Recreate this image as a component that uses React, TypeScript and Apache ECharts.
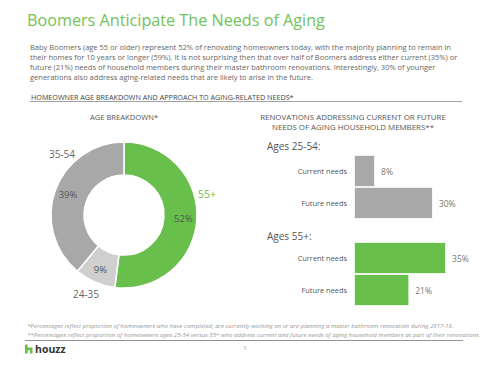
import React, { useEffect, useRef } from "react";
import * as echarts from "echarts";

const ageCategories = ["55+", "24-35", "35-54"];
const ageValues = [52, 9, 39];
const ageColors = ["#68bf4b", "#cfcfcf", "#a8a8a8"];

const needCategories = ["Current needs", "Future needs"];
const needs2554 = [8, 30];
const needs55 = [35, 21];

const paragraph = [
  "Baby Boomers (age 55 or older) represent 52% of renovating homeowners today, with the majority planning to remain in",
  "their homes for 10 years or longer (59%). It is not surprising then that over half of Boomers address either current (35%) or",
  "future (21%) needs of household members during their master bathroom renovations. Interestingly, 30% of younger",
  "generations also address aging-related needs that are likely to arise in the future.",
];
const footnotes = [
  "*Percentages reflect proportion of homeowners who have completed, are currently working on or are planning a master bathroom renovation during 2017-18.",
  "**Percentages reflect proportion of homeowners ages 25-54 versus 55+ who address current and future needs of aging household members as part of their renovations.",
];

const FONT = "'Open Sans', Lato, sans-serif";

export default function App() {
  const ref = useRef<HTMLDivElement>(null);
  useEffect(() => {
    if (!ref.current) return;
    const chart = echarts.init(ref.current, null, { renderer: "svg" });
    const barSeries = (data: number[], idx: number, color: string) => ({
      type: "bar",
      xAxisIndex: idx,
      yAxisIndex: idx,
      data,
      barCategoryGap: 0,
      itemStyle: { color, borderColor: "#ffffff", borderWidth: 0.8 },
      label: {
        show: true,
        position: "right",
        distance: 6,
        formatter: "{c}%",
        fontFamily: FONT,
        fontSize: 8.5,
        color: "#777",
      },
    });
    const xAxis = (idx: number) => ({
      gridIndex: idx,
      type: "value",
      min: 0,
      max: 40,
      show: false,
    });
    const yAxis = (idx: number) => ({
      gridIndex: idx,
      type: "category",
      inverse: true,
      data: needCategories,
      axisLine: { show: false },
      axisTick: { show: false },
      axisLabel: { fontFamily: FONT, fontSize: 7.4, color: "#555", margin: 7 },
    });
    chart.setOption({
      animation: false,
      backgroundColor: "#ffffff",
      grid: [
        { left: 354, top: 155, width: 105.2, height: 64 },
        { left: 354, top: 242, width: 105.2, height: 64 },
      ],
      xAxis: [xAxis(0), xAxis(1)],
      yAxis: [yAxis(0), yAxis(1)],
      series: [
        {
          type: "pie",
          center: [124, 215],
          radius: [40, 73],
          startAngle: 90,
          clockwise: true,
          data: ageCategories.map((n, i) => ({
            name: n,
            value: ageValues[i],
            itemStyle: { color: ageColors[i] },
          })),
          itemStyle: { borderColor: "#ffffff", borderWidth: 1.5 },
          label: {
            show: true,
            position: "inside",
            formatter: "{c}%",
            fontFamily: FONT,
            fontSize: 9.5,
            color: "#555",
          },
          labelLine: { show: false },
          emphasis: { disabled: true },
        },
        barSeries(needs2554, 0, "#a8a8a8"),
        barSeries(needs55, 1, "#68bf4b"),
      ],
      graphic: [
        {
          type: "text",
          left: 27,
          top: 12,
          style: { text: "Boomers Anticipate The Needs of Aging", fontFamily: FONT, fontSize: 16.2, fill: "#74c25a" },
        },
        {
          type: "text",
          left: 30,
          top: 42,
          style: { text: paragraph.join("\n"), fontFamily: FONT, fontSize: 7.5, lineHeight: 10, fill: "#666" },
        },
        {
          type: "text",
          left: 31,
          top: 93,
          style: { text: "HOMEOWNER AGE BREAKDOWN AND APPROACH TO AGING-RELATED NEEDS*", fontFamily: FONT, fontSize: 7.2, fill: "#444" },
        },
        { type: "line", shape: { x1: 30, y1: 101.5, x2: 462, y2: 101.5 }, style: { stroke: "#888", lineWidth: 0.8 } },
        {
          type: "text",
          x: 124,
          y: 117,
          style: { text: "AGE BREAKDOWN*", fontFamily: FONT, fontSize: 7.6, fill: "#555", align: "center", verticalAlign: "middle" },
        },
        {
          type: "text",
          x: 207,
          y: 194,
          style: { text: ageCategories[0], fontFamily: FONT, fontSize: 10.5, fill: "#68bf4b", align: "center", verticalAlign: "middle" },
        },
        {
          type: "text",
          x: 62,
          y: 154,
          style: { text: ageCategories[2], fontFamily: FONT, fontSize: 10, fill: "#666", align: "center", verticalAlign: "middle" },
        },
        {
          type: "text",
          x: 86,
          y: 294,
          style: { text: ageCategories[1], fontFamily: FONT, fontSize: 10, fill: "#666", align: "center", verticalAlign: "middle" },
        },
        {
          type: "text",
          x: 353,
          y: 122,
          style: {
            text: "RENOVATIONS ADDRESSING CURRENT OR FUTURE\nNEEDS OF AGING HOUSEHOLD MEMBERS**",
            fontFamily: FONT,
            fontSize: 7.9,
            lineHeight: 10.5,
            fill: "#555",
            align: "center",
            verticalAlign: "middle",
          },
        },
        {
          type: "text",
          x: 267,
          y: 146,
          style: { text: "Ages 25-54:", fontFamily: FONT, fontSize: 10, fill: "#555", verticalAlign: "middle" },
        },
        {
          type: "text",
          x: 267,
          y: 236,
          style: { text: "Ages 55+:", fontFamily: FONT, fontSize: 10, fill: "#555", verticalAlign: "middle" },
        },
        {
          type: "text",
          left: 27,
          top: 321,
          style: { text: footnotes.join("\n"), fontFamily: FONT, fontSize: 6.1, lineHeight: 9, fontStyle: "italic", fill: "#999" },
        },
        { type: "line", shape: { x1: 25, y1: 340.5, x2: 463, y2: 340.5 }, style: { stroke: "#777", lineWidth: 0.8 } },
        {
          type: "polygon",
          shape: {
            points: [
              [25, 344.5], [27.6, 344.5], [27.6, 347.5], [32.5, 347.5], [32.5, 353.5],
              [29.9, 353.5], [29.9, 350.3], [27.6, 350.3], [27.6, 353.5], [25, 353.5],
            ],
          },
          style: { fill: "#68bf4b" },
        },
        {
          type: "text",
          x: 35,
          y: 349,
          style: { text: "houzz", fontFamily: FONT, fontSize: 10.5, fontWeight: "bold", fill: "#333", verticalAlign: "middle" },
        },
        {
          type: "text",
          x: 245,
          y: 348,
          style: { text: "5", fontFamily: FONT, fontSize: 5, fill: "#aaa", align: "center", verticalAlign: "middle" },
        },
      ],
    });
    return () => chart.dispose();
  }, []);
  return (
    <div
      ref={ref}
      style={{ position: "absolute", left: 0, top: 0, width: 489, height: 366 }}
    />
  );
}
